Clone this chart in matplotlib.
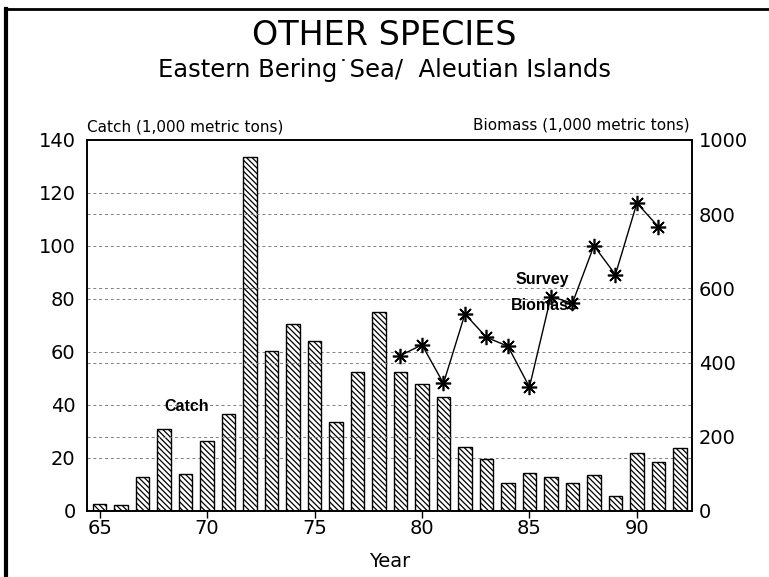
import numpy as np
import matplotlib.pyplot as plt
from matplotlib.lines import Line2D

plt.rcParams['font.family'] = ['DejaVu Sans']
plt.rcParams['hatch.linewidth'] = 0.9

# catch by year (1,000 metric tons)
years = list(range(1965, 1993))
catch = [2.5, 2.2, 12.8, 31, 13.9, 26.5, 36.5, 133.7, 60.4, 70.4, 64, 33.5,
         52.5, 75, 52.3, 48, 43, 24, 19.5, 10.5, 14.3, 12.8, 10.5, 13.6,
         5.8, 22, 18.5, 23.8]

# survey biomass (1,000 metric tons)
bio_years = list(range(1979, 1992))
biomass = [419, 448, 344, 531, 468, 444, 334, 578, 560, 715, 637, 830, 766]

x = np.array(years) - 1900
bx = np.array(bio_years) - 1900

fig = plt.figure(figsize=(7.69, 5.77), dpi=100)
ax = fig.add_axes([0.1127, 0.1144, 0.7868, 0.6430])
ax2 = ax.twinx()

# dotted grid lines at both scales
for v in range(20, 140, 20):
    ax.axhline(v, color='0.5', lw=0.7, ls=(0, (3, 3)), zorder=0)
for v in range(200, 1000, 200):
    ax2.axhline(v, color='0.5', lw=0.7, ls=(0, (3, 3)), zorder=0)

ax.bar(x, catch, width=0.62, color='white', edgecolor='black', lw=1.0,
       hatch='\\\\\\\\\\\\', zorder=2)

ax2.plot(bx, biomass, color='black', lw=1.0, marker=(8, 2, 0),
         markersize=11, markeredgewidth=1.2, zorder=3)

ax.set_xlim(64.4, 92.55)
ax.set_ylim(0, 140)
ax2.set_ylim(0, 1000)
ax.set_xticks([65, 70, 75, 80, 85, 90])
ax.set_yticks(range(0, 141, 20))
ax2.set_yticks(range(0, 1001, 200))

ax.tick_params(axis='x', direction='inout', length=10, width=1, labelsize=14,
               pad=1)
ax.tick_params(axis='y', direction='in', length=0, labelsize=14, pad=8)
ax2.tick_params(axis='y', direction='in', length=0, labelsize=14, pad=5)
for a in (ax, ax2):
    for s in a.spines.values():
        s.set_linewidth(1.2)
ax.set_zorder(ax2.get_zorder() - 1)
ax2.patch.set_visible(False)

ax.set_xlabel('Year', fontsize=14, labelpad=10)

ax.text(0.0, 1.015, 'Catch (1,000 metric tons)', transform=ax.transAxes,
        fontsize=11, ha='left', va='bottom')
ax2.text(0.997, 1.02, 'Biomass (1,000 metric tons)', transform=ax2.transAxes,
         fontsize=11, ha='right', va='bottom')

ax.text(69.05, 39.5, 'Catch', fontsize=11.5, fontweight='bold', ha='center',
        va='center', family='Liberation Sans', zorder=4)
ax2.text(85.6, 623, 'Survey', fontsize=11.5, fontweight='bold', ha='center',
         va='center', family='Liberation Sans', zorder=4)
ax2.text(85.7, 555, 'Biomass', fontsize=11.5, fontweight='bold', ha='center',
         va='center', family='Liberation Sans', zorder=4)

fig.text(0.5, 0.939, 'OTHER SPECIES', fontsize=24, ha='center', va='center')
fig.text(0.5, 0.878, 'Eastern Bering\u02d9Sea/  Aleutian Islands',
         fontsize=17.5, ha='center', va='center')

# scanned page frame
fig.add_artist(Line2D([0.008, 0.008], [0.0, 0.985], color='black', lw=3,
                      transform=fig.transFigure))
fig.add_artist(Line2D([0.008, 1.0], [0.985, 0.985], color='black', lw=2,
                      transform=fig.transFigure))

fig.savefig('out.png', dpi=100)
